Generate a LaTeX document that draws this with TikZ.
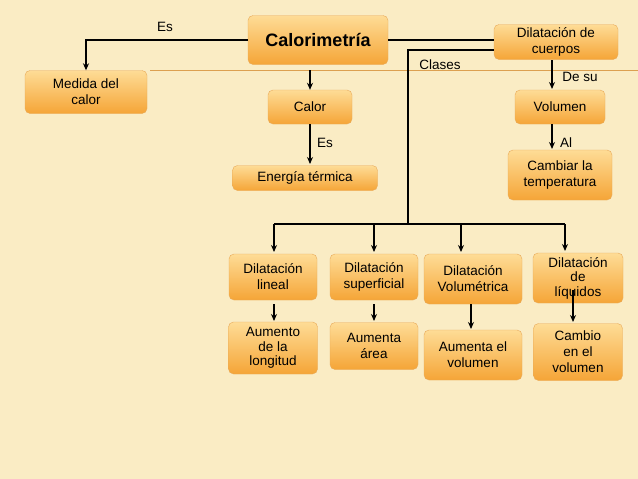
\documentclass[tikz,border=0pt]{standalone}
\usepackage{fontspec}
\setmainfont{Liberation Sans}
\usetikzlibrary{arrows.meta}

\definecolor{bgcream}{RGB}{250,236,196}
\definecolor{boxtop}{RGB}{254,220,150}
\definecolor{boxbot}{RGB}{245,165,55}
\definecolor{boxedge}{RGB}{232,170,90}
\definecolor{ruleorange}{RGB}{220,160,80}

\begin{document}
\begin{tikzpicture}[
    x=1pt, y=-1pt,
    concept/.style={rectangle, draw=boxedge, rounded corners=5pt, top color=boxtop, bottom color=boxbot, align=center, font=\fontsize{13.5}{16}\selectfont, inner sep=1pt},
    lbl/.style={font=\fontsize{13.5}{16}\selectfont},
    arrow/.style={-{Stealth[length=7pt,width=6pt]}, line width=1.8pt},
    link/.style={line width=1.8pt}
]

% Background
\fill[bgcream] (0,0) rectangle (638,479);
\useasboundingbox (0,0) rectangle (638,479);
\draw[ruleorange] (150,70) -- (638,70);

% Top level
\node[concept, minimum width=140pt, minimum height=49pt, font=\fontsize{18}{20}\selectfont\bfseries] (calo) at (318,40) {Calorimetría};
\node[concept, minimum width=124pt, minimum height=35pt] (dilcue) at (556,42) {Dilatación de\\cuerpos};
\node[concept, minimum width=122pt, minimum height=43pt] (medida) at (86,92) {Medida del\\calor};

% Calor branch
\node[concept, minimum width=84pt, minimum height=34pt] (calor) at (310,107) {Calor};
\node[concept, minimum width=145pt, minimum height=25pt] (energia) at (305,178) {Energía térmica};

% Volumen branch
\node[concept, minimum width=90pt, minimum height=34pt] (volumen) at (560,107) {Volumen};
\node[concept, minimum width=104pt, minimum height=50pt] (cambiar) at (560,175) {Cambiar la\\temperatura};

% Clases
\node[concept, minimum width=88pt, minimum height=46pt] (lineal) at (273,277) {Dilatación\\lineal};
\node[concept, minimum width=88pt, minimum height=46pt] (superf) at (374,277) {Dilatación\\superficial};
\node[concept, minimum width=98pt, minimum height=50pt] (volum) at (473,279) {Dilatación\\Volumétrica};
\node[concept, minimum width=90pt, minimum height=50pt, font=\fontsize{13.5}{14.5}\selectfont] (liquid) at (578,278) {Dilatación\\de\\líquidos};

\node[concept, minimum width=89pt, minimum height=52pt, font=\fontsize{13.5}{14.5}\selectfont] (longit) at (273,348) {Aumento\\de la\\longitud};
\node[concept, minimum width=88pt, minimum height=47pt] (area) at (374,346) {Aumenta\\área};
\node[concept, minimum width=98pt, minimum height=50pt] (aumvol) at (473,355) {Aumenta el\\volumen};
\node[concept, minimum width=89pt, minimum height=57pt] (cambvol) at (578,352) {Cambio\\en el\\volumen};

% Labels
\node[lbl] (les) at (165,27) {Es};
\node[lbl] (lclases) at (440,65) {Clases};
\node[lbl] (les2) at (325,143) {Es};
\node[lbl] (ldesu) at (580,77) {De su};
\node[lbl] (lal) at (566,143) {Al};

% Connections
\coordinate (bus) at (408,224);
\draw[arrow] (calo.west) -| (medida.north);
\draw[link] (calo.east) -- (calo.east -| dilcue.west);
\draw[link] (dilcue.west |- 0,50) -| (bus);
\draw[link] (274,224) -- (565,224);
\draw[arrow] (274,224) -- (274,252);
\draw[arrow] (374,224) -- (374,252);
\draw[arrow] (461,224) -- (461,252);
\draw[arrow] (565,224) -- (565,251);
\draw[arrow] (310,70) -- (calor.north);
\draw[arrow] (calor.south) -- (310,164);
\draw[arrow] (552,60) -- (552,89);
\draw[arrow] (552,124) -- (552,149);
\draw[arrow] (274,304) -- (274,321);
\draw[arrow] (374,304) -- (374,321);
\draw[arrow] (471,304) -- (471,329);
\draw[arrow] (573,290) -- (573,322);

\end{tikzpicture}
\end{document}
